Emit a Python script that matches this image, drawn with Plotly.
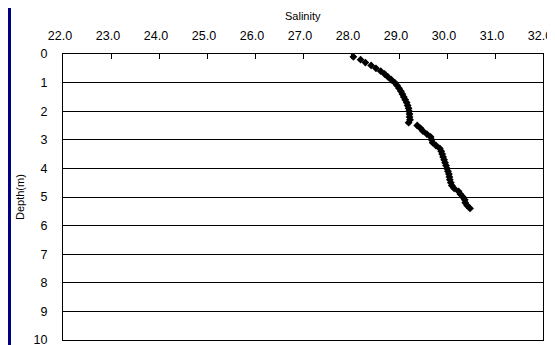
import plotly.graph_objects as go

depth = [0.1, 0.2, 0.3, 0.4, 0.5, 0.6, 0.7, 0.8, 0.9, 1.0,
         1.1, 1.2, 1.3, 1.4, 1.5, 1.6, 1.7, 1.8, 1.9, 2.0,
         2.1, 2.2, 2.3, 2.4, 2.5, 2.6, 2.7, 2.8, 2.9, 3.0,
         3.1, 3.2, 3.3, 3.4, 3.5, 3.6, 3.7, 3.8, 3.9, 4.0,
         4.1, 4.2, 4.3, 4.4, 4.5, 4.6, 4.7, 4.8, 4.9, 5.0,
         5.1, 5.2, 5.3, 5.4]
salinity = [28.05, 28.20, 28.30, 28.42, 28.52, 28.62, 28.70, 28.77, 28.84, 28.91,
            28.96, 29.00, 29.04, 29.07, 29.10, 29.13, 29.16, 29.18, 29.20, 29.21,
            29.22, 29.22, 29.23, 29.20, 29.38, 29.45, 29.50, 29.58, 29.66, 29.68,
            29.70, 29.77, 29.85, 29.88, 29.90, 29.92, 29.94, 29.96, 29.98, 30.00,
            30.02, 30.04, 30.05, 30.06, 30.08, 30.10, 30.15, 30.24, 30.28, 30.33,
            30.37, 30.38, 30.42, 30.48]

x_ticks = [22, 23, 24, 25, 26, 27, 28, 29, 30, 31, 32]
x_tick_labels = ["22.0", "23.0", "24.0", "25.0", "26.0", "27.0", "28.0", "29.0", "30.0", "31.0", "32.0"]
y_ticks = [0, 1, 2, 3, 4, 5, 6, 7, 8, 9, 10]
x_title = "Salinity"
y_title = "Depth(m)"

fig = go.Figure()
fig.add_trace(go.Scatter(
    x=salinity, y=depth, mode="markers",
    marker=dict(symbol="diamond", size=6, color="black"),
    cliponaxis=False,
    showlegend=False,
))

# page body has an 8px margin, so the figure is shrunk and shifted accordingly
font = "Liberation Sans, Arial, sans-serif"
fig.update_layout(
    width=547, height=337,
    margin=dict(l=55, r=12, t=46, b=5, autoexpand=False),
    paper_bgcolor="white", plot_bgcolor="white",
    font=dict(family=font, size=12.5, color="black"),
    xaxis=dict(
        side="top", range=[22, 32], tickvals=x_ticks, ticktext=x_tick_labels,
        ticks="inside", ticklen=5, tickcolor="black",
        showgrid=False, zeroline=False, automargin=False,
        showline=True, linecolor="black", linewidth=1, mirror=True,
        ticklabelstandoff=8, ticklabelshift=-3, ticklabeloverflow="allow",
    ),
    yaxis=dict(
        range=[10, 0], tickvals=y_ticks, automargin=False,
        ticks="", showgrid=True, gridcolor="black", gridwidth=1,
        zeroline=False,
        showline=True, linecolor="black", linewidth=1, mirror=True,
        ticklabelstandoff=12, ticklabeloverflow="allow",
    ),
    annotations=[
        dict(text=x_title, xref="paper", yref="paper", x=0.5, y=1 + 38/286,
             xanchor="center", yanchor="middle", showarrow=False,
             font=dict(size=11)),
        dict(text=y_title, xref="paper", yref="paper", x=-43/480, y=0.5,
             xanchor="center", yanchor="middle", showarrow=False, textangle=-90,
             font=dict(size=11)),
    ],
    shapes=[dict(type="rect", xref="paper", yref="paper",
                 x0=-55/480, x1=-52/480, y0=-5/286, y1=1+46/286,
                 fillcolor="#000080", line=dict(width=0), layer="above")],
)

fig.write_html("out.html")
